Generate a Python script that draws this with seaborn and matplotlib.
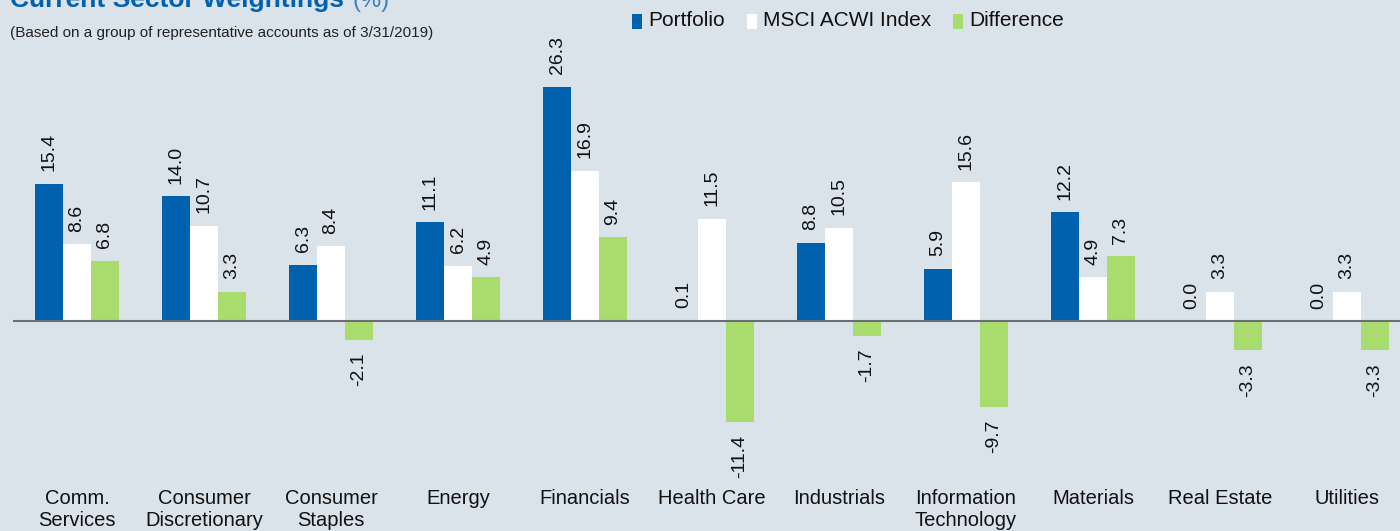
import matplotlib
matplotlib.use("Agg")
import matplotlib.pyplot as plt
from matplotlib.patches import Rectangle
import pandas as pd
import seaborn as sns

# sector weightings (%), as of 3/31/2019
sectors = ["Comm.\nServices", "Consumer\nDiscretionary", "Consumer\nStaples", "Energy",
           "Financials", "Health Care", "Industrials", "Information\nTechnology",
           "Materials", "Real Estate", "Utilities"]
portfolio = [15.4, 14.0, 6.3, 11.1, 26.3, 0.1, 8.8, 5.9, 12.2, 0.0, 0.0]
msci_acwi = [8.6, 10.7, 8.4, 6.2, 16.9, 11.5, 10.5, 15.6, 4.9, 3.3, 3.3]
difference = [6.8, 3.3, -2.1, 4.9, 9.4, -11.4, -1.7, -9.7, 7.3, -3.3, -3.3]

series_names = ["Portfolio", "MSCI ACWI Index", "Difference"]
colors = ["#0061AE", "#FFFFFF", "#A8DC6C"]
bg = "#DAE2EA"
W, H = 1400, 531

df = pd.DataFrame({
    "sector": sectors * 3,
    "series": [series_names[0]] * 11 + [series_names[1]] * 11 + [series_names[2]] * 11,
    "value": portfolio + msci_acwi + difference,
})

sns.set_theme(style="white")
plt.rcParams["font.family"] = ["Liberation Sans", "DejaVu Sans"]

fig = plt.figure(figsize=(14, 5.31), dpi=100, facecolor=bg)
ax = fig.add_axes([13 / W, 61 / H, 1387 / W, 410 / H])
ax.set_facecolor(bg)

sns.barplot(data=df, x="sector", y="value", hue="series", hue_order=series_names,
            palette=colors, width=0.66, gap=0, saturation=1, legend=False,
            linewidth=0, ax=ax)

for c in ax.containers:
    ax.bar_label(c, fmt="%.1f", rotation=90, padding=9, fontsize=14, color="#111111")

ax.set_xlim(-0.504, 10.417)
ax.set_ylim(-16.74, 29.33)
ax.axhline(0, color="#6b6f73", lw=1.5, zorder=5)
for s in ax.spines.values():
    s.set_visible(False)
ax.set_yticks([])
ax.set_xlabel("")
ax.set_ylabel("")
ax.tick_params(axis="x", length=0, pad=14, labelsize=14.5, labelcolor="#111111")
for t in ax.get_xticklabels():
    t.set_linespacing(1.15)
    t.set_verticalalignment("top")

renderer = fig.canvas.get_renderer()

# title (partly cut off at the top, as in the source)
title = fig.text(10 / W, 1 - 7 / H, "Current Sector Weightings", fontsize=19, fontweight="bold",
                 color="#0061AE", va="baseline", ha="left")
tx1 = title.get_window_extent(renderer).x1
fig.text((tx1 + 8) / W, 1 - 7 / H, "(%)", fontsize=17, color="#3a7fc1", va="baseline", ha="left")
fig.text(10 / W, 1 - 33 / H, "(Based on a group of representative accounts as of 3/31/2019)",
         fontsize=11, color="#222222", va="center", ha="left")

# legend drawn by hand to match the source spacing
x0 = 632
for name, col in zip(series_names, colors):
    fig.patches.append(Rectangle((x0 / W, 1 - 29 / H), 10 / W, 15 / H, facecolor=col,
                                 edgecolor="none", transform=fig.transFigure, figure=fig))
    txt = fig.text((x0 + 16) / W, 1 - 21 / H, name, fontsize=15, color="#111111",
                   va="center", ha="left")
    x0 = txt.get_window_extent(renderer).x1 + 22

fig.savefig("out.png", dpi=100, facecolor=bg)
